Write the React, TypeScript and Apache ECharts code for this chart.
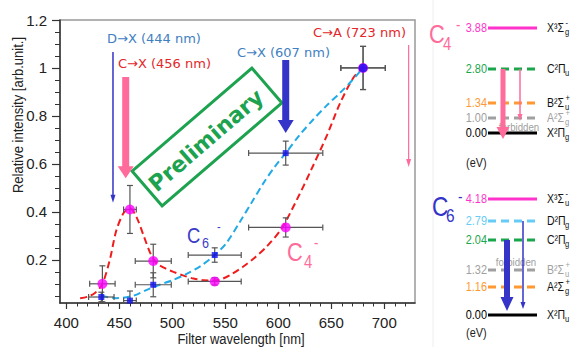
import React, { useEffect, useRef } from "react";
import * as echarts from "echarts";

// ---------- data ----------
const xTickLabels = [400, 450, 500, 550, 600, 650, 700];
const yTickLabels = [0.2, 0.4, 0.6, 0.8, 1, 1.2];

// C4- measured points
const c4Wavelength = [434, 460, 482, 540, 607, 680];
const c4Intensity = [0.1, 0.41, 0.195, 0.11, 0.335, 1.0];
const c4WavelengthErr = [12, 6, 17, 25, 35, 21];
const c4IntensityErr = [0.075, 0.1, 0.07, 0.015, 0.04, 0.09];

// C6- measured points
const c6Wavelength = [433, 460, 482, 540, 607, 680];
const c6Intensity = [0.045, 0.03, 0.096, 0.22, 0.645, 1.0];
const c6WavelengthErr = [12, 6, 17, 25, 35, 21];
const c6IntensityErr = [0.02, 0.04, 0.05, 0.03, 0.05, 0.09];

// fitted curves (dashed)
const c4FitX = [413, 420, 427, 434, 441, 447, 454, 460, 466, 473, 479, 485, 493, 501, 510, 520, 530, 540, 548, 557, 567, 578, 589, 603, 618, 631, 646, 658, 671, 680];
const c4FitY = [0.04, 0.046, 0.062, 0.1, 0.2, 0.32, 0.395, 0.415, 0.38, 0.3, 0.23, 0.186, 0.165, 0.15, 0.135, 0.122, 0.115, 0.114, 0.122, 0.143, 0.172, 0.21, 0.255, 0.33, 0.455, 0.575, 0.72, 0.85, 0.96, 1.0];
const c6FitX = [433, 447, 463, 476, 488, 500, 513, 527, 540, 551, 564, 575, 586, 597, 607, 620, 633, 646, 658, 670, 680];
const c6FitY = [0.05, 0.04, 0.05, 0.075, 0.096, 0.115, 0.14, 0.175, 0.22, 0.27, 0.36, 0.44, 0.52, 0.59, 0.645, 0.72, 0.785, 0.845, 0.895, 0.95, 1.0];

// transition arrows in the plot (wavelength, top value, tip value)
const arrowWavelength = [444, 456, 607, 723];
const arrowTop = [1.067, 0.9625, 1.033, 1.096];
const arrowTip = [0.4375, 0.54, 0.729, 0.5875];
const arrowText = ["D\u2192X (444 nm)", "C\u2192X (456 nm)", "C\u2192X (607 nm)", "C\u2192A (723 nm)"];

// energy levels
const c4LevelEnergy = ["3.88", "2.80", "1.34", "1.00", "0.00"];
const c4LevelState = [["X\u00B3\u03A3", "g", "-"], ["C\u00B2\u03A0", "u", ""], ["B\u00B2\u03A3", "u", "+"], ["A\u00B2\u03A3", "g", "+"], ["X\u00B2\u03A0", "g", ""]];
const c6LevelEnergy = ["4.18", "2.79", "2.04", "1.32", "1.16", "0.00"];
const c6LevelState = [["X\u00B3\u03A3", "u", "-"], ["D\u00B2\u03A0", "g", ""], ["C\u00B2\u03A0", "g", ""], ["B\u00B2\u03A3", "u", "+"], ["A\u00B2\u03A3", "g", "+"], ["X\u00B2\u03A0", "u", ""]];

// ---------- layout & style ----------
const SANS = "'Liberation Sans',Arial,sans-serif";
const VERD = "'DejaVu Sans',Verdana,sans-serif";
const NX = 0.84; // horizontal squeeze to imitate a narrow face
const PINK = "#ff6b9a";
const DBLUE = "#3434c8";
const RED = "#e4262a";
const STEEL = "#3f80c2";
const GREEN = "#1aa64a";
const MAG = "#ff33cc";
const ORANGE = "#ff9933";
const GRAY = "#a0a0a0";
const LBLUE = "#66ccf5";

const arrowStyle = [
  { color: DBLUE, shaft: 1.5, headW: 5, headL: 8 },
  { color: PINK, shaft: 7, headW: 16, headL: 12 },
  { color: DBLUE, shaft: 7, headW: 16, headL: 13 },
  { color: PINK, shaft: 1.2, headW: 5, headL: 8 },
];
const arrowTextPos = [
  [107, 38, STEEL],
  [118, 63, RED],
  [237, 52, STEEL],
  [313, 32, RED],
];

const c4LevelColor = [MAG, GREEN, ORANGE, GRAY, "#000"];
const c4LevelDashed = [false, true, true, true, false];
const c4LevelY = [28, 69, 103, 118, 133];
const c6LevelColor = [MAG, LBLUE, GREEN, GRAY, ORANGE, "#000"];
const c6LevelDashed = [false, true, true, true, true, false];
const c6LevelY = [199, 221, 240, 270, 287, 315];

function ntext(text: string, x: number, y: number, align: string, size: number, fill: string, extra: any = {}) {
  return {
    type: "text",
    x,
    y,
    scaleX: NX,
    style: { text, x: 0, y: 0, align, verticalAlign: "middle", fontSize: size, fontFamily: SANS, fill, ...extra },
  };
}

function arrowPts(cx: number, y0: number, y1: number, s: number, hw: number, hl: number) {
  return [
    [cx - s / 2, y0],
    [cx + s / 2, y0],
    [cx + s / 2, y1 - hl],
    [cx + hw / 2, y1 - hl],
    [cx, y1],
    [cx - hw / 2, y1 - hl],
    [cx - s / 2, y1 - hl],
  ];
}

function levelDiagram(energy: string[], states: string[][], colors: string[], dashed: boolean[], ys: number[]) {
  const els: any[] = [];
  energy.forEach((e, i) => {
    const y = ys[i];
    const c = colors[i];
    els.push(ntext(e, 487, y, "right", 13, c));
    els.push({
      type: "line",
      shape: { x1: 488, y1: y, x2: 537, y2: y },
      style: { stroke: c, lineWidth: 3, lineDash: dashed[i] ? [8, 5] : null },
    });
    const lc = c === GRAY ? GRAY : "#111";
    const [base, sub, sup] = states[i];
    els.push(ntext(base, 547, y, "left", 12.5, lc));
    els.push(ntext(sub, 565, y + 4, "left", 9, lc));
    if (sup) els.push(ntext(sup, 565.5, y - 5, "left", 9, lc));
  });
  return els;
}

function bigLabel(sub: string, x: number, y: number, color: string, size: number, subDx: number, supDx: number) {
  return [
    ntext("C", x, y, "left", size, color),
    ntext(sub, x + subDx, y + size * 0.36, "left", size * 0.68, color),
    ntext("-", x + supDx, y - size * 0.38, "left", size * 0.6, color),
  ];
}

export default function App() {
  const ref = useRef<HTMLDivElement>(null);
  useEffect(() => {
    if (!ref.current) return;
    const chart = echarts.init(ref.current, undefined, { renderer: "svg" });

    const xMinor: number[] = [];
    for (let v = 400; v <= 720; v += 10) xMinor.push(v);
    const yMinor: number[] = [];
    for (let k = 1; k <= 24; k++) yMinor.push(Math.round(k * 5) / 100);

    const c4Err = c4Wavelength.map((x, i) => [x, c4Intensity[i], c4WavelengthErr[i], c4IntensityErr[i]]);
    const c6Err = c6Wavelength.map((x, i) => [x, c6Intensity[i], c6WavelengthErr[i], c6IntensityErr[i]]);
    const YMIN = 0.02;

    const errRender = (params: any, api: any) => {
      const x = api.value(0), y = api.value(1), xe = api.value(2), ye = api.value(3);
      const c = api.coord([x, y]);
      const l = api.coord([x - xe, y]);
      const r = api.coord([x + xe, y]);
      const t = api.coord([x, y + ye]);
      const lowClamped = y - ye < YMIN;
      const b = api.coord([x, Math.max(y - ye, YMIN)]);
      const cap = 3;
      const st = { stroke: "#555", lineWidth: 1.2 };
      const ch: any[] = [
        { type: "line", shape: { x1: l[0], y1: c[1], x2: r[0], y2: c[1] }, style: st },
        { type: "line", shape: { x1: l[0], y1: c[1] - cap, x2: l[0], y2: c[1] + cap }, style: st },
        { type: "line", shape: { x1: r[0], y1: c[1] - cap, x2: r[0], y2: c[1] + cap }, style: st },
        { type: "line", shape: { x1: c[0], y1: t[1], x2: c[0], y2: b[1] }, style: st },
        { type: "line", shape: { x1: c[0] - cap, y1: t[1], x2: c[0] + cap, y2: t[1] }, style: st },
      ];
      if (!lowClamped) ch.push({ type: "line", shape: { x1: c[0] - cap, y1: b[1], x2: c[0] + cap, y2: b[1] }, style: st });
      return { type: "group", children: ch };
    };

    const arrowData = arrowWavelength.map((w, i) => [w, arrowTop[i], arrowTip[i]]);

    const graphics: any[] = [];
    // faint panel separator
    graphics.push({ type: "line", shape: { x1: 433, y1: 0, x2: 433, y2: 347 }, style: { stroke: "#eeeeee", lineWidth: 1 } });
    // axis names
    graphics.push({
      type: "text",
      x: 18,
      y: 115,
      rotation: Math.PI / 2,
      scaleX: NX,
      style: { text: "Relative intensity [arb.unit.]", x: 0, y: 0, align: "center", verticalAlign: "middle", fontSize: 15.5, fontFamily: SANS, fill: "#222" },
    });
    graphics.push(ntext("Filter wavelength [nm]", 241, 339, "center", 15.5, "#222"));
    // arrow annotations
    arrowText.forEach((t, i) => {
      const [x, y, col] = arrowTextPos[i] as any;
      graphics.push({ type: "text", style: { text: t, x, y, align: "left", verticalAlign: "middle", fontSize: 13, fontFamily: VERD, fill: col } });
    });
    // Preliminary stamp
    graphics.push({
      type: "group",
      x: 207,
      y: 137,
      rotation: (40.7 * Math.PI) / 180,
      children: [
        { type: "rect", shape: { x: -79, y: -23, width: 158, height: 46 }, style: { fill: "none", stroke: "#1da24f", lineWidth: 3 } },
        { type: "text", style: { text: "Preliminary", x: -3, y: 2, align: "center", verticalAlign: "middle", fontSize: 22, fontWeight: "bold", fontFamily: VERD, fill: "#1da24f" } },
      ],
    });
    // molecule labels in the plot
    graphics.push(...bigLabel("6", 187, 235, "#3b3bc8", 22, 15, 30));
    graphics.push(...bigLabel("4", 287, 252, PINK, 26, 17, 27));

    // energy level diagrams
    graphics.push(...bigLabel("4", 429, 34, PINK, 26, 14, 27));
    graphics.push(...levelDiagram(c4LevelEnergy, c4LevelState, c4LevelColor, c4LevelDashed, c4LevelY));
    graphics.push(ntext("forbidden", 519, 127, "center", 11.5, GRAY));
    graphics.push({ type: "polygon", shape: { points: arrowPts(503, 69, 139, 5, 13, 12) }, style: { fill: PINK } });
    graphics.push({ type: "polygon", shape: { points: arrowPts(520, 69, 121, 1.5, 5, 7) }, style: { fill: PINK } });
    graphics.push(ntext("(eV)", 466, 163, "left", 13, "#222"));

    graphics.push(...bigLabel("6", 432, 206, DBLUE, 27, 14, 26));
    graphics.push(...levelDiagram(c6LevelEnergy, c6LevelState, c6LevelColor, c6LevelDashed, c6LevelY));
    graphics.push(ntext("forbidden", 516, 262, "center", 11.5, GRAY));
    graphics.push({ type: "polygon", shape: { points: arrowPts(507, 240, 311, 6, 13, 14) }, style: { fill: DBLUE } });
    graphics.push({ type: "polygon", shape: { points: arrowPts(523, 221, 309, 1.5, 5, 7) }, style: { fill: DBLUE } });
    graphics.push(ntext("(eV)", 466, 333, "left", 13, "#222"));

    const axisLbl = { fontSize: 15, color: "#222", fontFamily: SANS };

    chart.setOption({
      animation: false,
      backgroundColor: "#fff",
      grid: {
        left: 60,
        top: 20,
        right: 163,
        bottom: 44,
        show: true,
        borderColor: "#999",
        borderWidth: 1.5,
        backgroundColor: "transparent",
        containLabel: false,
        outerBoundsMode: "none",
      },
      xAxis: [
        {
          type: "value",
          min: 394,
          max: 729,
          position: "bottom",
          axisLine: { show: true, onZero: false, lineStyle: { color: "#333", width: 1.5 } },
          axisTick: { show: true, customValues: xTickLabels, length: 6, lineStyle: { color: "#333", width: 1.2 } },
          axisLabel: { ...axisLbl, customValues: xTickLabels, margin: 12 },
          splitLine: { show: false },
        },
        {
          type: "value",
          min: 394,
          max: 729,
          position: "bottom",
          axisLine: { show: false, onZero: false },
          axisTick: { show: true, customValues: xMinor, length: 3.5, lineStyle: { color: "#333", width: 1 } },
          axisLabel: { show: false },
          splitLine: { show: false },
        },
      ],
      yAxis: [
        {
          type: "value",
          min: 0.02,
          max: 1.2,
          position: "left",
          axisLine: { show: true, onZero: false, lineStyle: { color: "#333", width: 1.5 } },
          axisTick: { show: true, customValues: yTickLabels, length: 8, lineStyle: { color: "#333", width: 1.2 } },
          axisLabel: { ...axisLbl, customValues: yTickLabels, margin: 13 },
          splitLine: { show: false },
        },
        {
          type: "value",
          min: 0.02,
          max: 1.2,
          position: "left",
          axisLine: { show: false, onZero: false },
          axisTick: { show: true, customValues: yMinor, length: 5, lineStyle: { color: "#333", width: 1 } },
          axisLabel: { show: false },
          splitLine: { show: false },
        },
      ],
      series: [
        {
          type: "line",
          name: "C4 fit",
          data: c4FitX.map((x, i) => [x, c4FitY[i]]),
          showSymbol: false,
          smooth: 0.3,
          lineStyle: { color: "#f01c1c", width: 2, type: [7, 4] },
          z: 2,
        },
        {
          type: "line",
          name: "C6 fit",
          data: c6FitX.map((x, i) => [x, c6FitY[i]]),
          showSymbol: false,
          smooth: 0.3,
          lineStyle: { color: "#22aae6", width: 2, type: [7, 4] },
          z: 2,
        },
        { type: "custom", name: "C4 err", data: c4Err, renderItem: errRender, encode: { x: 0, y: 1 }, z: 3, clip: true },
        { type: "custom", name: "C6 err", data: c6Err, renderItem: errRender, encode: { x: 0, y: 1 }, z: 3, clip: true },
        {
          type: "scatter",
          name: "C4-",
          data: c4Wavelength.map((x, i) => [x, c4Intensity[i]]),
          symbol: "circle",
          symbolSize: 10,
          itemStyle: { color: "#ff00ff" },
          z: 4,
        },
        {
          type: "scatter",
          name: "C6-",
          data: c6Wavelength.map((x, i) =>
            i === c6Wavelength.length - 1
              ? { value: [x, c6Intensity[i]], symbol: "circle", symbolSize: 9 }
              : [x, c6Intensity[i]]
          ),
          symbol: "rect",
          symbolSize: 6,
          itemStyle: { color: "#1010f0" },
          z: 5,
        },
        {
          type: "custom",
          name: "arrows",
          data: arrowData,
          encode: { x: 0, y: 1 },
          clip: false,
          z: 6,
          renderItem: (params: any, api: any) => {
            const w = api.value(0);
            const top = api.coord([w, api.value(1)]);
            const tip = api.coord([w, api.value(2)]);
            const st = arrowStyle[params.dataIndex];
            return {
              type: "polygon",
              shape: { points: arrowPts(top[0], top[1], tip[1], st.shaft, st.headW, st.headL) },
              style: { fill: st.color },
            };
          },
        },
      ],
      graphic: graphics,
    });
    return () => chart.dispose();
  }, []);
  return <div ref={ref} style={{ position: "fixed", left: 0, top: 0, width: 578, height: 347, background: "#fff" }} />;
}
